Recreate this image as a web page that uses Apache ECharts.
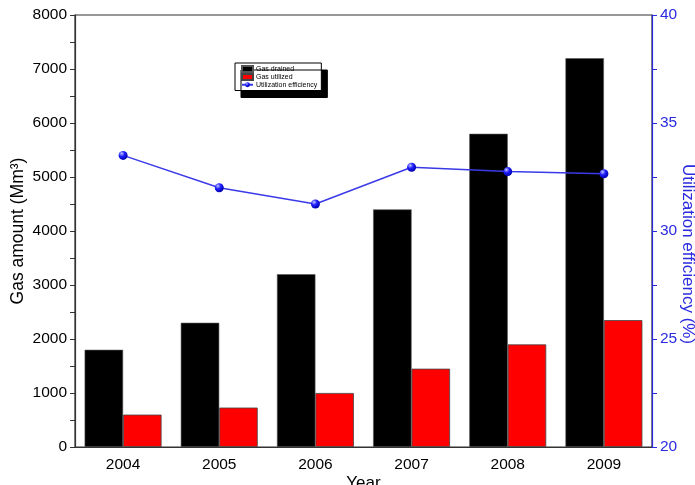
<!DOCTYPE html>
<html>
<head>
<meta charset="utf-8">
<script src="https://cdn.jsdelivr.net/npm/echarts@6/dist/echarts.min.js"></script>
<style>html,body{margin:0;padding:0;background:#fff}#c{width:695px;height:485px}</style>
</head>
<body>
<div id="c"></div>
<script>
var years = ['2004', '2005', '2006', '2007', '2008', '2009'];
var gasDrained = [1800, 2300, 3200, 4400, 5800, 7200];
var gasUtilized = [600, 730, 1000, 1450, 1900, 2350];
var utilEfficiency = [33.5, 32.0, 31.25, 32.95, 32.75, 32.65];

var BLUE = '#2a2ae0';
var FONT = 'Liberation Sans, Arial, sans-serif';
var chart = echarts.init(document.getElementById('c'), null, {renderer: 'canvas'});
chart.setOption({
  animation: false,
  backgroundColor: '#fff',
  textStyle: {fontFamily: FONT},
  grid: {left: 75, right: 43, top: 15, bottom: 38, outerBoundsMode: 'none', containLabel: false,
    show: true, borderColor: '#333', borderWidth: 1.2, backgroundColor: 'transparent'},
  legend: {
    orient: 'vertical', left: 235, top: 63,
    padding: [2, 4, 2, 6],
    itemWidth: 11, itemHeight: 6, itemGap: 0,
    backgroundColor: '#fff', borderColor: '#000', borderWidth: 1, borderRadius: 0,
    shadowColor: '#000', shadowBlur: 0, shadowOffsetX: 6, shadowOffsetY: 7,
    textStyle: {fontSize: 7, lineHeight: 7.5, color: '#000', fontFamily: FONT, padding: [0, 0, 0, -2]},
    data: [
      {name: 'Gas drained', icon: 'rect'},
      {name: 'Gas utilized', icon: 'rect'},
      {name: 'Utilization efficiency'}
    ]
  },
  xAxis: {
    type: 'category', data: years,
    name: 'Year', nameLocation: 'middle', nameGap: 28, nameMoveOverlap: false,
    nameTextStyle: {fontSize: 17, color: '#000', fontFamily: FONT},
    axisLine: {lineStyle: {color: '#333', width: 1.2}},
    axisTick: {show: false},
    axisLabel: {fontSize: 15.5, color: '#000', margin: 10, fontFamily: FONT}
  },
  yAxis: [{
    type: 'value', min: 0, max: 8000, interval: 1000,
    name: 'Gas amount (Mm³)', nameLocation: 'middle', nameGap: 48, nameMoveOverlap: false,
    nameTextStyle: {fontSize: 17.5, color: '#000', fontFamily: FONT},
    axisLine: {show: true, lineStyle: {color: '#333', width: 1.2}},
    axisTick: {show: true, inside: false, length: 5, lineStyle: {color: '#333'}},
    minorTick: {show: true, splitNumber: 2, length: 5, lineStyle: {color: '#333'}},
    splitLine: {show: false},
    axisLabel: {fontSize: 15.5, color: '#000', margin: 8, fontFamily: FONT,
      formatter: function (v) { return String(v); }}
  }, {
    type: 'value', min: 20, max: 40, interval: 5, position: 'right',
    name: 'Utilization efficiency (%)', nameLocation: 'middle', nameGap: 27, nameRotate: -90,
    nameMoveOverlap: false,
    nameTextStyle: {fontSize: 17, color: BLUE, fontFamily: FONT, padding: [0, 0, 0, 46]},
    axisLine: {show: true, lineStyle: {color: BLUE, width: 1.2}},
    axisTick: {show: true, length: 5, lineStyle: {color: BLUE}},
    minorTick: {show: true, splitNumber: 2, length: 5, lineStyle: {color: BLUE}},
    splitLine: {show: false},
    axisLabel: {fontSize: 15.5, color: BLUE, margin: 8, fontFamily: FONT,
      formatter: function (v) { return String(v); }}
  }],
  series: [{
    name: 'Gas drained', type: 'bar', data: gasDrained,
    barGap: '0%', barCategoryGap: '20%',
    itemStyle: {color: '#000', borderColor: '#555', borderWidth: 0.6}
  }, {
    name: 'Gas utilized', type: 'bar', data: gasUtilized,
    itemStyle: {color: '#ff0000', borderColor: '#444', borderWidth: 0.8}
  }, {
    name: 'Utilization efficiency', type: 'line', yAxisIndex: 1, data: utilEfficiency,
    symbol: 'circle', symbolSize: 9,
    lineStyle: {color: '#3a3ae8', width: 1.5},
    itemStyle: {
      color: {type: 'radial', x: 0.35, y: 0.3, r: 0.7, colorStops: [
        {offset: 0, color: '#c8c8ff'}, {offset: 0.45, color: '#2020ff'}, {offset: 1, color: '#0000b0'}
      ]},
      borderWidth: 0
    },
    z: 5
  }]
});
</script>
</body>
</html>
